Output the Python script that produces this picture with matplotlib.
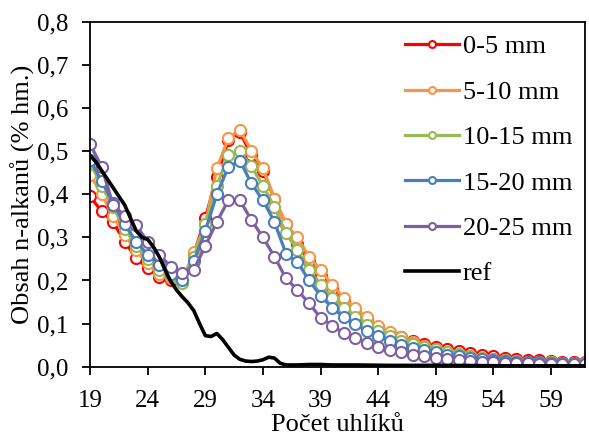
import matplotlib
matplotlib.use('Agg')
import matplotlib.pyplot as plt
import numpy as np

plt.rcParams['font.family'] = ['Liberation Serif', 'DejaVu Serif']

# pocet uhliku
uhliky = list(range(19, 63))

h_0_5 = [0.395, 0.36, 0.335, 0.29, 0.252, 0.228, 0.208, 0.2, 0.197, 0.26,
         0.345, 0.44, 0.525, 0.545, 0.49, 0.455, 0.39, 0.33, 0.285, 0.245,
         0.21, 0.18, 0.15, 0.125, 0.11, 0.092, 0.078, 0.068, 0.06, 0.052,
         0.045, 0.04, 0.036, 0.031, 0.027, 0.024, 0.021, 0.018, 0.016, 0.015,
         0.013, 0.012, 0.011, 0.01]
h_5_10 = [0.445, 0.4, 0.35, 0.305, 0.27, 0.24, 0.215, 0.205, 0.2, 0.265,
          0.33, 0.46, 0.53, 0.55, 0.5, 0.46, 0.39, 0.33, 0.3, 0.255,
          0.225, 0.19, 0.16, 0.135, 0.115, 0.095, 0.08, 0.068, 0.058, 0.048,
          0.04, 0.034, 0.029, 0.024, 0.02, 0.017, 0.015, 0.013, 0.012, 0.011,
          0.01, 0.009, 0.009, 0.008]
h_10_15 = [0.475, 0.42, 0.37, 0.32, 0.28, 0.25, 0.225, 0.21, 0.195, 0.255,
           0.33, 0.42, 0.49, 0.5, 0.465, 0.42, 0.37, 0.31, 0.27, 0.225,
           0.19, 0.16, 0.135, 0.115, 0.097, 0.082, 0.07, 0.06, 0.052, 0.045,
           0.04, 0.034, 0.029, 0.025, 0.021, 0.018, 0.016, 0.014, 0.012, 0.011,
           0.01, 0.009, 0.009, 0.008]
h_15_20 = [0.48, 0.43, 0.38, 0.33, 0.29, 0.26, 0.235, 0.215, 0.2, 0.245,
           0.315, 0.4, 0.463, 0.478, 0.425, 0.386, 0.336, 0.262, 0.243, 0.2,
           0.165, 0.137, 0.116, 0.098, 0.083, 0.071, 0.06, 0.051, 0.044, 0.038,
           0.033, 0.028, 0.024, 0.021, 0.018, 0.016, 0.014, 0.012, 0.011, 0.01,
           0.009, 0.008, 0.008, 0.007]
h_20_25 = [0.517, 0.463, 0.375, 0.35, 0.328, 0.29, 0.26, 0.232, 0.217, 0.225,
           0.28, 0.336, 0.386, 0.386, 0.34, 0.3, 0.255, 0.205, 0.178, 0.147,
           0.114, 0.095, 0.078, 0.067, 0.056, 0.046, 0.039, 0.034, 0.028, 0.024,
           0.02, 0.017, 0.015, 0.013, 0.011, 0.01, 0.009, 0.008, 0.008, 0.007,
           0.007, 0.006, 0.006, 0.006]

# referencni vzorek (odecteno po pul uhliku)
ref_x = [19, 19.5, 20, 20.5, 21, 21.5, 22, 22.5, 23, 23.5, 24, 24.5, 25, 25.5,
         26, 26.5, 27, 27.5, 28, 28.5, 29, 29.5, 30, 30.5, 31, 31.5, 32, 32.5,
         33, 33.5, 34, 34.5, 35, 35.5, 36, 37, 38, 39, 40, 42, 45, 50, 55, 62]
ref_y = [0.49, 0.475, 0.455, 0.435, 0.415, 0.395, 0.375, 0.345, 0.315, 0.3,
         0.295, 0.278, 0.255, 0.225, 0.198, 0.178, 0.162, 0.148, 0.13, 0.1,
         0.072, 0.07, 0.077, 0.063, 0.045, 0.027, 0.017, 0.013, 0.012, 0.013,
         0.016, 0.022, 0.02, 0.008, 0.004, 0.004, 0.005, 0.005, 0.004, 0.004,
         0.003, 0.003, 0.002, 0.002]

serie = [('0-5 mm', h_0_5, '#FF0000'),
         ('5-10 mm', h_5_10, '#F79646'),
         ('10-15 mm', h_10_15, '#98B954'),
         ('15-20 mm', h_15_20, '#4A7EBB'),
         ('20-25 mm', h_20_25, '#7D60A0')]

x_ticks = [19, 24, 29, 34, 39, 44, 49, 54, 59]
y_ticks = [0.0, 0.1, 0.2, 0.3, 0.4, 0.5, 0.6, 0.7, 0.8]
y_labels = ['0,0', '0,1', '0,2', '0,3', '0,4', '0,5', '0,6', '0,7', '0,8']

fig = plt.figure(figsize=(5.89, 4.36), dpi=100)
ax = fig.add_axes([0.153, 0.159, 0.841, 0.791])

for nazev, hodnoty, barva in serie:
    ax.plot(uhliky, hodnoty, color=barva, lw=2.3, marker='o', ms=8,
            mfc='white', mec=barva, mew=1.5, label=nazev)
ax.plot(ref_x, ref_y, color='black', lw=2.6, label='ref')

ax.set_xlim(19, 62)
ax.set_ylim(0, 0.8)
ax.set_xticks(x_ticks)
ax.set_yticks(y_ticks)
ax.set_yticklabels(y_labels)
ax.tick_params(axis='both', labelsize=18, direction='out', length=6, width=1.3)
ax.tick_params(axis='x', pad=11)
ax.tick_params(axis='y', pad=10)
for s in ax.spines.values():
    s.set_linewidth(1.3)

ax.set_xlabel('Počet uhlíků', fontsize=19, labelpad=1)
ax.set_ylabel('Obsah n-alkanů (% hm.)', fontsize=19, labelpad=1)

leg = ax.legend(loc='upper right', frameon=False, fontsize=19,
                handlelength=2.05, handletextpad=0.15, labelspacing=0.83,
                borderaxespad=0.2, borderpad=0.3)
for h in leg.legend_handles:
    h.set_markersize(5)

fig.savefig('out.png', dpi=100)
